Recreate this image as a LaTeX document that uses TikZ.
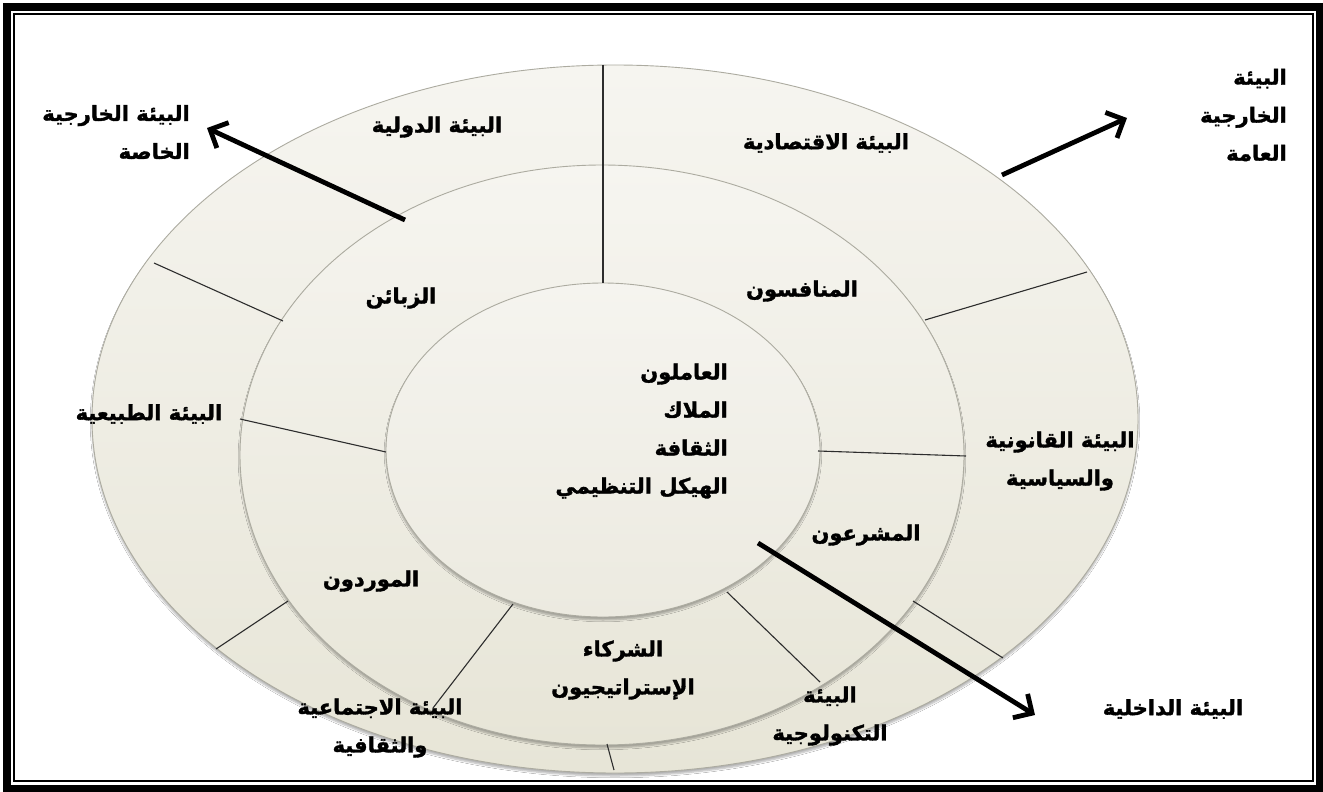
\documentclass[tikz,border=0pt]{standalone}
\usepackage{fontspec}
\newfontfamily\arabicfont[Script=Arabic,FakeBold=1.6]{DejaVu Sans Bold}
\TeXXeTstate=1
\usetikzlibrary{arrows.meta,shadows.blur}
\newcommand{\ar}[1]{\beginR #1\endR}
\definecolor{ringline}{RGB}{172,171,160}
\definecolor{spokec}{RGB}{45,45,45}
\definecolor{filltop}{RGB}{246,245,240}
\definecolor{fillbot}{RGB}{231,229,215}
\definecolor{innertop}{RGB}{245,244,239}
\definecolor{innerbot}{RGB}{236,234,224}
\begin{document}
\begin{tikzpicture}[x=1pt,y=-1pt,
  ring/.style={draw=ringline, line width=0.9pt,
    blur shadow={shadow xshift=0pt, shadow yshift=-3pt, shadow blur steps=6, shadow opacity=30}},
  spoke/.style={draw=spokec, line width=1.1pt},
  bigarrow/.style={line width=4.8pt, -{Straight Barb[length=14pt,width=28pt]}},
  lbl/.style={font=\arabicfont\fontsize{21}{38}\selectfont, inner sep=0pt, align=center},
  lblr/.style={lbl, align=right}
]
\useasboundingbox (0,0) rectangle (1323,792);
\fill[white] (0,0) rectangle (1323,792);
% frame
\draw[line width=8pt] (7,7) rectangle (1320,789);
\draw[line width=2pt] (13.5,14) rectangle (1312.5,780.5);

% rings
\path[ring, top color=filltop, bottom color=fillbot] (615,419) ellipse [x radius=523, y radius=354];
\path[ring, top color=filltop, bottom color=fillbot] (602,455) ellipse [x radius=362, y radius=290];
\path[ring, top color=innertop, bottom color=innerbot] (603,450) ellipse [x radius=217, y radius=167];

% spoke end points
\coordinate (v1) at (603,65);   \coordinate (v2) at (603,283);
\coordinate (o1a) at (154,263); \coordinate (o1b) at (283,321);
\coordinate (o2a) at (1087,272);\coordinate (o2b) at (925,320);
\coordinate (o3a) at (216,649); \coordinate (o3b) at (288,601);
\coordinate (o4a) at (1003,658);\coordinate (o4b) at (913,601);
\coordinate (o5a) at (614,770); \coordinate (o5b) at (607,744);
\coordinate (m1a) at (240,419); \coordinate (m1b) at (386,452);
\coordinate (m2a) at (966,456); \coordinate (m2b) at (818,451);
\coordinate (m3a) at (433,708); \coordinate (m3b) at (513,604);
\coordinate (m4a) at (820,682); \coordinate (m4b) at (727,592);

\draw[spoke] (v1) -- (v2);
\draw[spoke] (o1a) -- (o1b);
\draw[spoke] (o2a) -- (o2b);
\draw[spoke] (o3a) -- (o3b);
\draw[spoke] (o4a) -- (o4b);
\draw[spoke] (o5a) -- (o5b);
\draw[spoke] (m1a) -- (m1b);
\draw[spoke] (m2a) -- (m2b);
\draw[spoke] (m3a) -- (m3b);
\draw[spoke] (m4a) -- (m4b);

% arrows
\coordinate (a1s) at (405,220); \coordinate (a1e) at (207,128);
\coordinate (a2s) at (1002,175);\coordinate (a2e) at (1127,118);
\coordinate (a3s) at (758,543); \coordinate (a3e) at (1035,715);
\draw[bigarrow] (a1s) -- (a1e);
\draw[bigarrow] (a2s) -- (a2e);
\draw[bigarrow] (a3s) -- (a3e);

% labels
\node[lblr, anchor=east] (special) at (190,132) {\ar{البيئة الخارجية}\\\ar{الخاصة}};
\node[lblr, anchor=east] (general) at (1287,115) {\ar{البيئة}\\\ar{الخارجية}\\\ar{العامة}};
\node[lbl] (intl) at (437,127) {\ar{البيئة الدولية}};
\node[lbl] (econ) at (826,143) {\ar{البيئة الاقتصادية}};
\node[lbl] (cust) at (401,298) {\ar{الزبائن}};
\node[lbl] (comp) at (802,291) {\ar{المنافسون}};
\node[lbl] (nat) at (149,414) {\ar{البيئة الطبيعية}};
\node[lbl] (legal) at (1060,461) {\ar{البيئة القانونية}\\\ar{والسياسية}};
\node[lbl] (leg) at (866,535) {\ar{المشرعون}};
\node[lbl] (supp) at (371,581) {\ar{الموردون}};
\node[lbl] (part) at (623,670) {\ar{الشركاء}\\\ar{الإستراتيجيون}};
\node[lbl] (tech) at (830,716) {\ar{البيئة}\\\ar{التكنولوجية}};
\node[lbl] (soc) at (380,728) {\ar{البيئة الاجتماعية}\\\ar{والثقافية}};
\node[lbl] (intern) at (1173,709) {\ar{البيئة الداخلية}};
\node[lblr, anchor=east] (core) at (728,431) {\ar{العاملون}\\\ar{الملاك}\\\ar{الثقافة}\\\ar{الهيكل التنظيمي}};
\end{tikzpicture}
\end{document}
